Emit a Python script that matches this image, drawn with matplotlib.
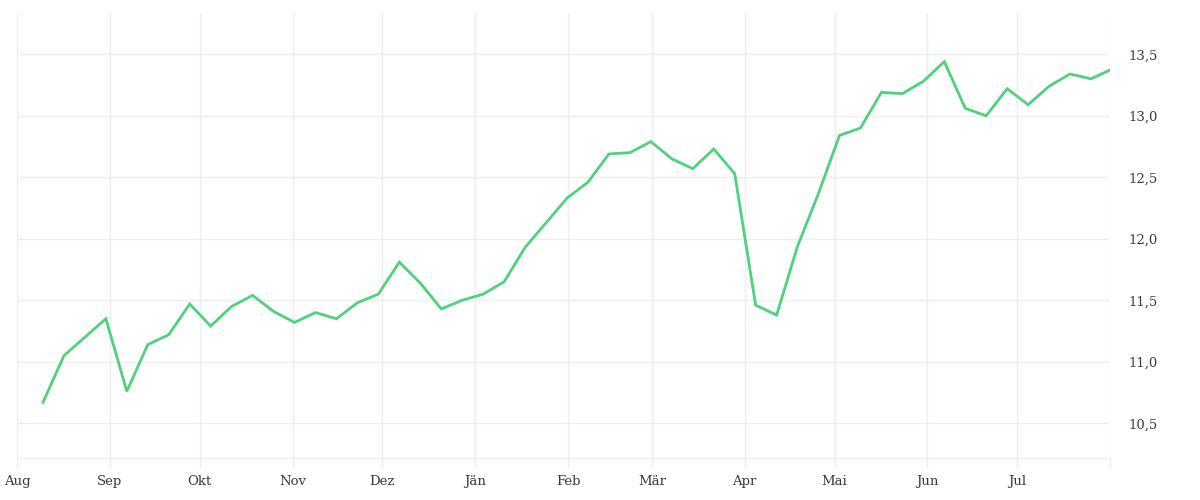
import matplotlib
matplotlib.use("Agg")
import matplotlib.pyplot as plt
import pandas as pd

# weekly observations
start_date = "2022-08-09 16:00"
n_points = 52
values = [10.67, 11.05, 11.20, 11.35, 10.76, 11.14, 11.22, 11.47, 11.29, 11.45,
          11.54, 11.41, 11.32, 11.40, 11.35, 11.48, 11.55, 11.81, 11.64, 11.43,
          11.50, 11.55, 11.65, 11.93, 12.13, 12.33, 12.46, 12.69, 12.70, 12.79,
          12.65, 12.57, 12.73, 12.53, 11.46, 11.38, 11.94, 12.37, 12.84, 12.90,
          13.19, 13.18, 13.28, 13.44, 13.06, 13.00, 13.22, 13.09, 13.24, 13.34,
          13.30, 13.38]
month_labels = ["Aug", "Sep", "Okt", "Nov", "Dez", "Jän", "Feb", "Mär", "Apr",
                "Mai", "Jun", "Jul", ""]
y_ticks = [10.5, 11.0, 11.5, 12.0, 12.5, 13.0, 13.5]

dates = pd.date_range(start_date, periods=n_points, freq="7D")
month_ticks = pd.date_range("2022-08-01", "2023-08-01", freq="MS")

fig = plt.figure(figsize=(12, 5), dpi=100)
ax = fig.add_axes([0.0142, 0.084, 0.925 - 0.0142, 0.9746 - 0.084])

grid_c = "#eeeeee"
ax.plot(dates, values, color="#4ed27a", lw=2.0, solid_joinstyle="miter", zorder=3)

ax.set_xlim(pd.Timestamp("2022-08-01"), pd.Timestamp("2023-08-01"))
ax.set_ylim(10.218, 13.838)

ax.set_xticks(month_ticks)
ax.set_xticklabels(month_labels)
ax.set_yticks(y_ticks)
ax.set_yticklabels([f"{v:.1f}".replace(".", ",") for v in y_ticks])

ax.yaxis.tick_right()
ax.grid(True, color=grid_c, lw=1.0, zorder=0)

for s in ["top", "left", "right"]:
    ax.spines[s].set_visible(False)
ax.spines["bottom"].set_color(grid_c)
ax.spines["bottom"].set_linewidth(1.0)

font = ["DejaVu Serif"]
ax.tick_params(axis="x", length=7.5, width=1.0, color=grid_c, pad=5,
               labelsize=9.5, labelcolor="#3a3a3a")
ax.tick_params(axis="y", length=0, pad=13, labelsize=9.5, labelcolor="#3a3a3a")
for lab in ax.get_xticklabels() + ax.get_yticklabels():
    lab.set_family(font)

fig.savefig("out.png", dpi=100, facecolor="white")
